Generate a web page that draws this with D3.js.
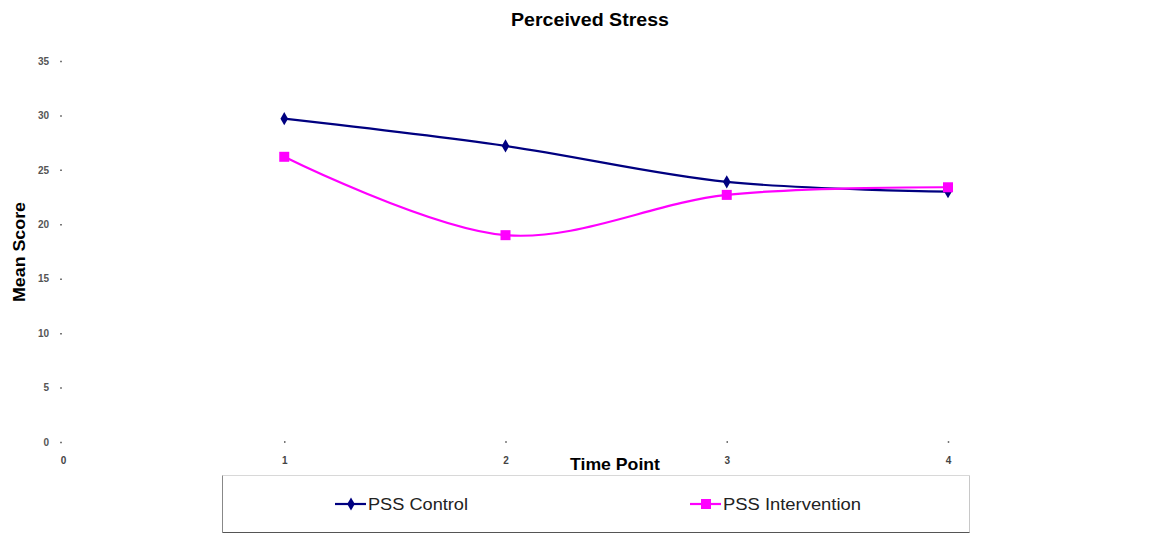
<!DOCTYPE html>
<html><head><meta charset="utf-8">
<script src="https://cdn.jsdelivr.net/npm/d3@7"></script>
<style>body{margin:0;background:#fff;} svg{display:block;}</style>
</head><body>
<svg id="c" width="1167" height="534"></svg>
<script>
const timePoints = [1, 2, 3, 4];
const controlValues = [29.7, 27.2, 23.9, 23.0];
const interventionValues = [26.2, 19.0, 22.7, 23.4];
const yTicks = [0, 5, 10, 15, 20, 25, 30, 35];
const xTicks = [0, 1, 2, 3, 4];
const seriesNames = ["PSS Control", "PSS Intervention"];

const svg = d3.select("#c");
const x = d3.scaleLinear().domain([0, 4]).range([63, 948]);
const y = d3.scaleLinear().domain([0, 35]).range([442, 61]);
const font = "Arial, 'Liberation Sans', sans-serif";

svg.append("text").attr("x", 590).attr("y", 26).attr("text-anchor", "middle")
  .attr("font-family", font).attr("font-weight", "bold").attr("font-size", 18)
  .attr("textLength", 158).attr("lengthAdjust", "spacingAndGlyphs").text("Perceived Stress");

// y axis
const ya = svg.append("g").attr("transform", "translate(62,0)")
  .call(d3.axisLeft(y).tickValues(yTicks).tickSize(2).tickPadding(11));
ya.select(".domain").remove();
ya.selectAll("line").attr("stroke", "#777").attr("stroke-width", 1.5);
ya.selectAll("text").attr("font-family", font).attr("font-size", 10).attr("font-weight", "bold").attr("fill", "#555");

// x axis
const xa = svg.append("g").attr("transform", "translate(0,441)")
  .call(d3.axisBottom(x).tickValues(xTicks).tickSize(2).tickPadding(14).tickFormat(d3.format("d")));
xa.select(".domain").remove();
xa.selectAll("line").attr("stroke", "#777").attr("stroke-width", 1.5).filter(d => d === 0).remove();
xa.selectAll("text").attr("font-family", font).attr("font-size", 10).attr("font-weight", "bold").attr("fill", "#444");

svg.append("text").attr("transform", "translate(25,252) rotate(-90)").attr("text-anchor", "middle")
  .attr("font-family", font).attr("font-weight", "bold").attr("font-size", 17)
  .attr("textLength", 100).attr("lengthAdjust", "spacingAndGlyphs").text("Mean Score");
svg.append("text").attr("x", 615).attr("y", 470).attr("text-anchor", "middle")
  .attr("font-family", font).attr("font-weight", "bold").attr("font-size", 17)
  .attr("textLength", 90).attr("lengthAdjust", "spacingAndGlyphs").text("Time Point");

const line = d3.line().x(d => x(d[0])).y(d => y(d[1])).curve(d3.curveCatmullRom.alpha(0.5));
const cData = timePoints.map((t, i) => [t, controlValues[i]]);
const iData = timePoints.map((t, i) => [t, interventionValues[i]]);

svg.append("path").attr("d", line(cData)).attr("fill", "none").attr("stroke", "#000080").attr("stroke-width", 2.2);
svg.append("path").attr("d", line(iData)).attr("fill", "none").attr("stroke", "#FF00FF").attr("stroke-width", 2.2);

const diamond = d3.symbol().type(d3.symbolDiamond).size(50);
svg.selectAll(".cm").data(cData).enter().append("path")
  .attr("transform", d => `translate(${x(d[0])},${y(d[1])})`).attr("d", diamond).attr("fill", "#000080");
svg.selectAll(".im").data(iData).enter().append("rect")
  .attr("x", d => x(d[0]) - 5).attr("y", d => y(d[1]) - 5).attr("width", 10).attr("height", 10).attr("fill", "#FF00FF");

// legend box (sides with different greys)
const L = 222.5, R = 969.5, T = 475.5, B = 532.5;
svg.append("line").attr("x1", L).attr("x2", R).attr("y1", T).attr("y2", T).attr("stroke", "#d8d8d8");
svg.append("line").attr("x1", R).attr("x2", R).attr("y1", T).attr("y2", B).attr("stroke", "#c8c8c8");
svg.append("line").attr("x1", L).attr("x2", L).attr("y1", T).attr("y2", B).attr("stroke", "#888");
svg.append("line").attr("x1", L).attr("x2", R).attr("y1", B).attr("y2", B).attr("stroke", "#555");
const leg = [{name: seriesNames[0], color: "#000080", x0: 335, type: "d", w: 100}, {name: seriesNames[1], color: "#FF00FF", x0: 690, type: "s", w: 138}];
leg.forEach(l => {
  svg.append("line").attr("x1", l.x0).attr("x2", l.x0 + 31).attr("y1", 504).attr("y2", 504)
    .attr("stroke", l.color).attr("stroke-width", 2.2);
  if (l.type === "d") svg.append("path").attr("transform", `translate(${l.x0 + 16},504)`).attr("d", diamond).attr("fill", l.color);
  else svg.append("rect").attr("x", l.x0 + 11).attr("y", 499).attr("width", 10).attr("height", 10).attr("fill", l.color);
  svg.append("text").attr("x", l.x0 + 33).attr("y", 509.5).attr("font-family", font).attr("font-size", 16)
    .attr("textLength", l.w).attr("lengthAdjust", "spacingAndGlyphs")
    .attr("fill", "#222").text(l.name);
});
</script>
</body></html>
